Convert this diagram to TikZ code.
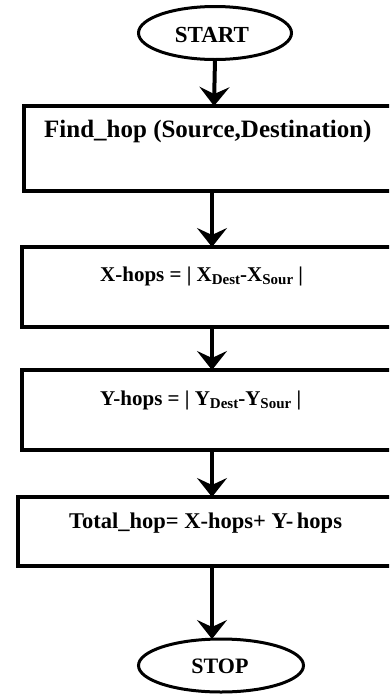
\documentclass[tikz,border=0pt]{standalone}
\usepackage{fontspec}
\setmainfont{Liberation Serif}
\usetikzlibrary{arrows.meta,shapes.geometric}
\newcommand{\subtxt}[1]{\raisebox{-3pt}{\fontsize{15}{15}\selectfont #1}}
\begin{document}
\begin{tikzpicture}[x=1pt,y=-1pt,
  box/.style={draw, line width=4.5pt, rectangle, inner sep=0pt, outer sep=0pt},
  term/.style={draw, line width=3pt, ellipse, inner sep=0pt, outer sep=0pt},
  txt/.style={inner sep=0pt, font=\bfseries},
  flow/.style={line width=4pt, -{Stealth[length=19pt, width=30pt, inset=7pt]}}]
\useasboundingbox (0,0) rectangle (389,694);
\clip (0,0) rectangle (389,694);
\node[term, minimum width=153pt, minimum height=53pt] (start) at (215,33) {};
\node[txt, anchor=base, font=\bfseries\fontsize{23}{23}\selectfont] (tstart) at (212,42) {START};
\node[box, minimum width=380pt, minimum height=85pt] (b1) at (214,148.5) {};
\node[txt, anchor=base west, font=\bfseries\fontsize{25}{25}\selectfont] (t1) at (44,137) {Find\_hop (Source,Destination)};
\node[box, minimum width=380pt, minimum height=80pt] (b2) at (212,287) {};
\node[txt, anchor=base west, font=\bfseries\fontsize{21}{21}\selectfont] (t2) at (100,281) {X-hops = | X\subtxt{Dest}-X\subtxt{Sour} |};
\node[box, minimum width=380pt, minimum height=80pt] (b3) at (212,410) {};
\node[txt, anchor=base west, font=\bfseries\fontsize{21}{21}\selectfont] (t3) at (100,405) {Y-hops = | Y\subtxt{Dest}-Y\subtxt{Sour} |};
\node[box, minimum width=388pt, minimum height=69pt] (b4) at (212,531.5) {};
\node[txt, anchor=base west, font=\bfseries\fontsize{22.5}{22.5}\selectfont] (t4) at (69,528) {Total\_hop= X-hops+ Y-\,hops};
\node[term, minimum width=165pt, minimum height=53pt] (stop) at (221,665.5) {};
\node[txt, anchor=base, font=\bfseries\fontsize{22}{22}\selectfont] (tstop) at (220,673) {STOP};
\draw[flow] (start.south) -- (b1.north);
\draw[flow] (b1.south -| b2.north) -- (b2.north);
\draw[flow] (b2.south) -- (b3.north);
\draw[flow] (b3.south) -- (b4.north);
\draw[flow] (b4.south) -- (b4.south |- stop.north);
\end{tikzpicture}
\end{document}
